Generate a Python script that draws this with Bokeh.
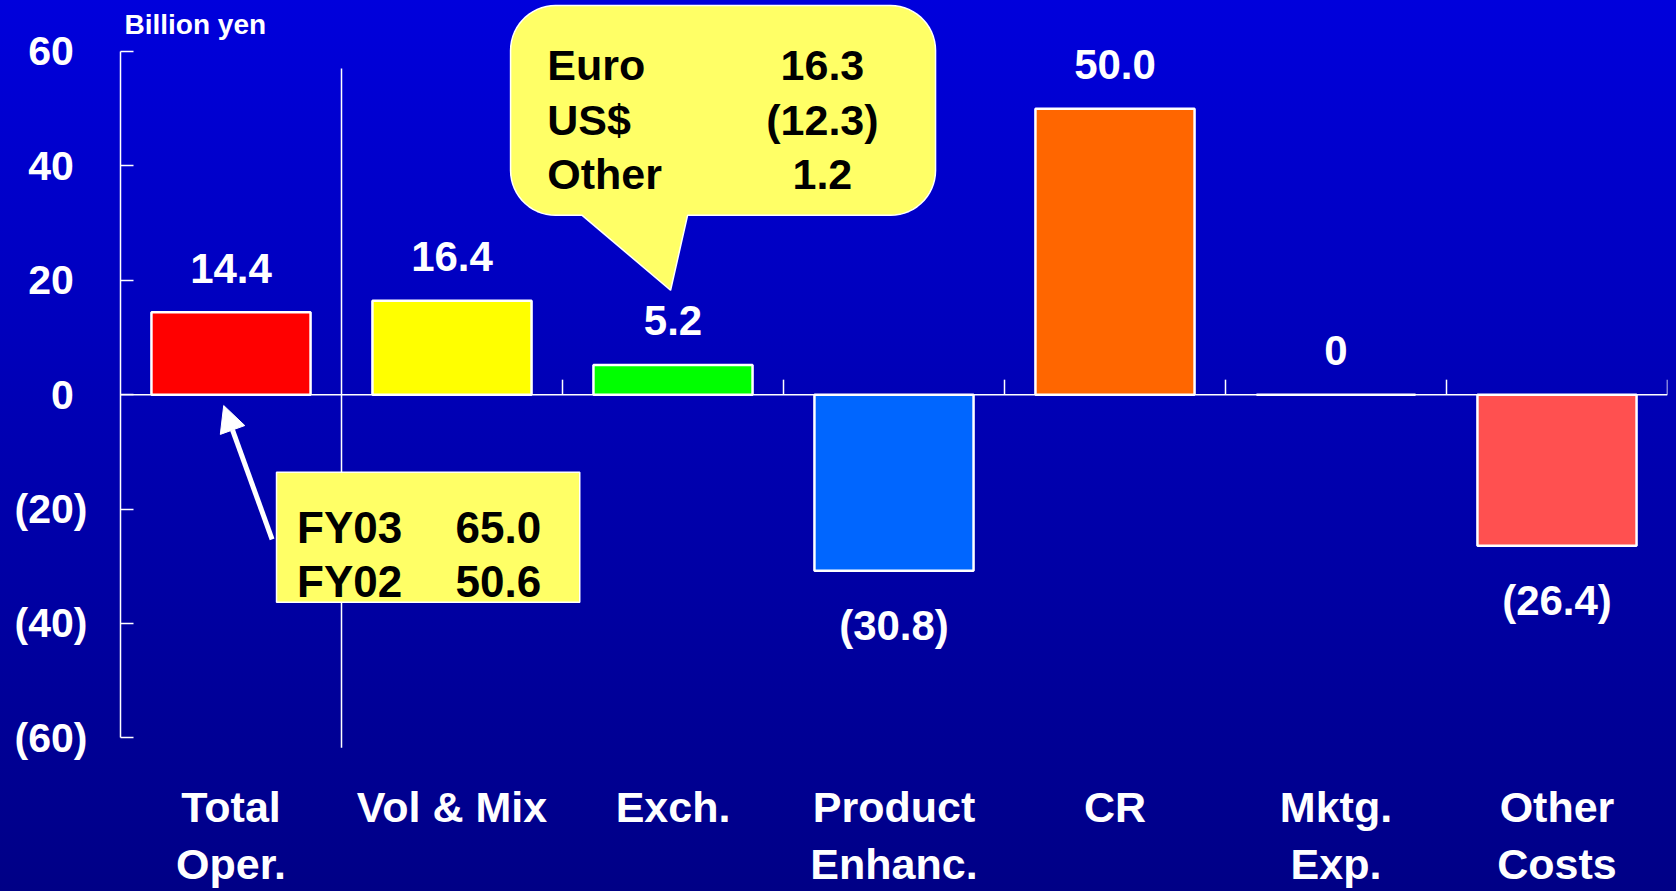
import numpy as np
from bokeh.plotting import figure
from bokeh.models import (Range1d, FactorRange, FixedTicker, Span, Label, Arrow,
                          NormalHead, ColumnDataSource)
from bokeh.core.properties import value
from bokeh.embed import file_html
from bokeh.resources import INLINE

# ---------------- data ----------------
categories = ["Total\nOper.", "Vol & Mix", "Exch.", "Product\nEnhanc.", "CR",
              "Mktg.\nExp.", "Other\nCosts"]
values = [14.4, 16.4, 5.2, -30.8, 50.0, 0.0, -26.4]
bar_colors = ["#FF0000", "#FFFF00", "#00FF00", "#0066FF", "#FF6600", "#0000AA", "#FF5050"]
y_ticks = [-60, -40, -20, 0, 20, 40, 60]
exch_items = ["Euro", "US$", "Other"]
exch_values = [16.3, -12.3, 1.2]
total_items = ["FY03", "FY02"]
total_values = [65.0, 50.6]
unit_label = "Billion yen"

# ---------------- layout constants ----------------
W, H = 1676, 891
FRAME_L, FRAME_R_PAD, FRAME_H = 120, 9, 760
FRAME_W = W - FRAME_L - FRAME_R_PAD
Y0, Y1 = -63.26, 68.91
XPX = FRAME_W / len(categories)      # px per category unit
YPX = 5.725                          # px per value unit (approx.)

FONT = value("Liberation Sans")
WHITE = "#FFFFFF"
CALLOUT = "#FFFF66"


def fmt(v):
    if v == 0:
        return "0"
    if v < 0:
        return "(%.1f)" % abs(v)
    return "%.1f" % v


p = figure(width=W, height=H, x_range=FactorRange(*categories, range_padding=0),
           y_range=Range1d(Y0, Y1), output_backend="svg", toolbar_location=None,
           min_border_left=FRAME_L, min_border_right=FRAME_R_PAD,
           min_border_top=0, min_border_bottom=H - FRAME_H)
p.background_fill_color = None
p.border_fill_color = None
p.outline_line_color = None
p.styles = {"background": "linear-gradient(180deg, #0000DC 0%, #000086 100%)"}
p.grid.visible = False

# ---- y axis ----
ya = p.yaxis[0]
ya.ticker = FixedTicker(ticks=y_ticks)
ya.bounds = (min(y_ticks), max(y_ticks))
ya.major_label_overrides = {t: ("(%d)" % abs(t) if t < 0 else "%d\u2004" % t) for t in y_ticks}
ya.axis_line_color = WHITE
ya.axis_line_width = 1.5
ya.major_tick_line_color = WHITE
ya.major_tick_line_width = 1.5
ya.major_tick_in = 13
ya.major_tick_out = 0
ya.minor_tick_line_color = None
ya.major_label_standoff = 33
ya.major_label_text_color = WHITE
ya.major_label_text_font = "Liberation Sans"
ya.major_label_text_font_style = "bold"
ya.major_label_text_font_size = "41px"

# ---- x axis (category labels at the bottom) ----
xa = p.xaxis[0]
xa.axis_line_color = None
xa.major_tick_line_color = None
xa.minor_tick_line_color = None
xa.major_label_standoff = 20
xa.major_label_text_color = WHITE
xa.major_label_text_font = "Liberation Sans"
xa.major_label_text_font_style = "bold"
xa.major_label_text_font_size = "43px"
xa.major_label_text_line_height = 1.2

# ---- zero line and boundary ticks ----
p.add_layout(Span(location=0, dimension="width", line_color=WHITE, line_width=1.5))
bounds_x = np.arange(2, len(categories) + 1)
p.segment(x0=bounds_x, y0=0, x1=bounds_x, y1=15 / YPX, line_color=WHITE, line_width=1.5)

# separator between total and the components
p.segment(x0=[1], y0=[57.0], x1=[1], y1=[-61.75], line_color=WHITE, line_width=1.5)

# ---- bars ----
src = ColumnDataSource(dict(
    x=categories, top=values, color=bar_colors,
    label=[fmt(v) for v in values],
    yoff=[-44 if v >= 0 else 55 for v in values],
))
p.vbar(x="x", top="top", bottom=0, width=0.72, fill_color="color",
       line_color=WHITE, line_width=2.5, source=src)
p.text(x="x", y="top", text="label", y_offset="yoff", source=src,
       text_align="center", text_baseline="alphabetic", text_color=WHITE,
       text_font=FONT, text_font_style="bold", text_font_size="42px")

# ---- FY03/FY02 box with arrow ----
p.add_layout(Arrow(end=NormalHead(size=26, fill_color=WHITE, line_color=WHITE),
                   x_start=0.686, y_start=-25.3, x_end=0.467, y_end=-1.9,
                   line_color=WHITE, line_width=5))
p.quad(left=[0.706], right=[2.078], top=[-13.57], bottom=[-36.28],
       fill_color=CALLOUT, line_color=WHITE, line_width=1.5)
tot_y = [-23.3, -32.6]
p.text(x=[0.799] * len(total_items), y=tot_y, text=total_items,
       text_align="left", text_baseline="alphabetic", text_color="black",
       text_font=FONT, text_font_style="bold", text_font_size="44px")
p.text(x=[1.516] * len(total_values), y=tot_y, text=["%.1f" % v for v in total_values],
       text_align="left", text_baseline="alphabetic", text_color="black",
       text_font=FONT, text_font_style="bold", text_font_size="44px")

# ---- exchange speech bubble ----
def bubble(left, right, top, bottom, r_px, tail):
    rx, ry = r_px / XPX, r_px / YPX
    xs, ys = [], []

    def arc(cx, cy, a0, a1):
        t = np.radians(np.linspace(a0, a1, 16))
        xs.extend(cx + rx * np.cos(t))
        ys.extend(cy + ry * np.sin(t))

    arc(left + rx, top - ry, 180, 90)
    arc(right - rx, top - ry, 90, 0)
    arc(right - rx, bottom + ry, 0, -90)
    (tx_r, tip_x, tip_y, tx_l) = tail
    xs.extend([tx_r, tip_x, tx_l])
    ys.extend([bottom, tip_y, bottom])
    arc(left + rx, bottom + ry, -90, -180)
    return xs, ys


bx, by = bubble(1.765, 3.688, 68.03, 31.35, 45, (2.566, 2.489, 18.25, 2.089))
p.patch(bx, by, fill_color=CALLOUT, line_color=WHITE, line_width=1.5)
ex_y = [57.55, 47.95, 38.5]
p.text(x=[1.931] * len(exch_items), y=ex_y, text=exch_items,
       text_align="left", text_baseline="alphabetic", text_color="black",
       text_font=FONT, text_font_style="bold", text_font_size="43px")
p.text(x=[3.176] * len(exch_values), y=ex_y, text=[fmt(v) for v in exch_values],
       text_align="center", text_baseline="alphabetic", text_color="black",
       text_font=FONT, text_font_style="bold", text_font_size="43px")

# ---- unit label (top left, next to the axis) ----
p.add_layout(Label(x=4 / XPX, y=Y1 - 24 / YPX, text=unit_label,
                   text_align="left", text_baseline="alphabetic", text_color=WHITE,
                   text_font="Liberation Sans", text_font_style="bold",
                   text_font_size="28px"))

open("out.html", "w").write(file_html(p, INLINE))
